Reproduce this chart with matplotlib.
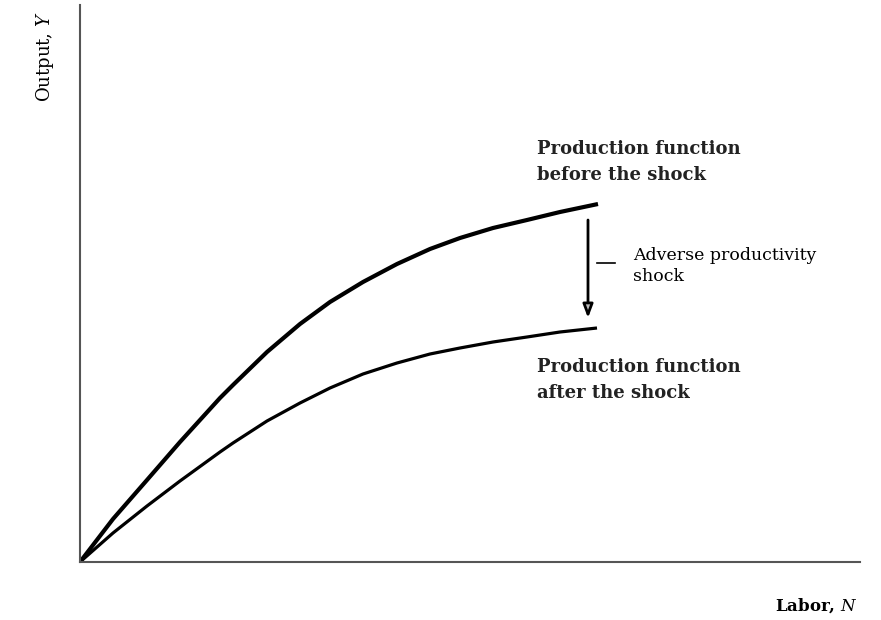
"""
Production function before and after an adverse productivity shock.
"""
import matplotlib
matplotlib.use('Agg')
import matplotlib.pyplot as plt

plt.rcParams['font.family'] = 'DejaVu Serif'
plt.rcParams['mathtext.fontset'] = 'dejavuserif'

# Curves (labor, output in arbitrary units)
labor_before = [0, 33, 67, 100, 140, 153, 187, 220, 250, 283, 317, 350, 380, 413, 447, 480, 518]
output_before = [0, 43, 82, 120, 164, 177, 210, 238, 260, 280, 298, 313, 324, 334, 342, 350, 358]
labor_after = [0, 33, 67, 100, 140, 153, 187, 220, 250, 283, 317, 350, 380, 413, 447, 480, 517]
output_after = [0, 29, 56, 81, 110, 119, 141, 159, 174, 188, 199, 208, 214, 220, 225, 230, 234]

# Shock arrow
shock_labor = 508
shock_from, shock_to = 342, 244

fig = plt.figure(figsize=(8.81, 6.2), dpi=100)
ax = fig.add_axes([80 / 881, 58 / 620, 780 / 881, 557 / 620])
ax.set_xlim(0, 780)
ax.set_ylim(0, 557)

ax.plot(labor_before, output_before, color='black', lw=3.0, solid_capstyle='butt')
ax.plot(labor_after, output_after, color='black', lw=2.3, solid_capstyle='butt')

ax.annotate('', xy=(shock_labor, shock_to), xytext=(shock_labor, shock_from),
            arrowprops=dict(arrowstyle='-|>,head_width=0.3,head_length=0.8',
                            lw=2.0, fc='#bbbbbb', ec='black',
                            shrinkA=0, shrinkB=0))
ax.plot([517, 535], [299, 299], color='black', lw=1.2)

ax.text(457, 422, 'Production function\nbefore the shock', fontsize=13,
        fontweight='bold', va='top', ha='left', linespacing=1.55, color='#222222')
ax.text(457, 204, 'Production function\nafter the shock', fontsize=13,
        fontweight='bold', va='top', ha='left', linespacing=1.55, color='#222222')
ax.text(553, 315, 'Adverse productivity\nshock', fontsize=12.5,
        va='top', ha='left', linespacing=1.3)

# Cosmetics
for side in ['top', 'right']:
    ax.spines[side].set_visible(False)
for side in ['left', 'bottom']:
    ax.spines[side].set_color('#555555')
    ax.spines[side].set_linewidth(1.5)
ax.set_xticks([])
ax.set_yticks([])

fig.text(858 / 881, 1 - 606 / 620, 'Labor, $N$', fontsize=12, fontweight='bold',
         ha='right', va='center')
fig.text(45 / 881, 1 - 57 / 620, 'Output, $Y$', fontsize=13, rotation=90,
         ha='center', va='center')

plt.savefig('out.png', dpi=100)
plt.close()
